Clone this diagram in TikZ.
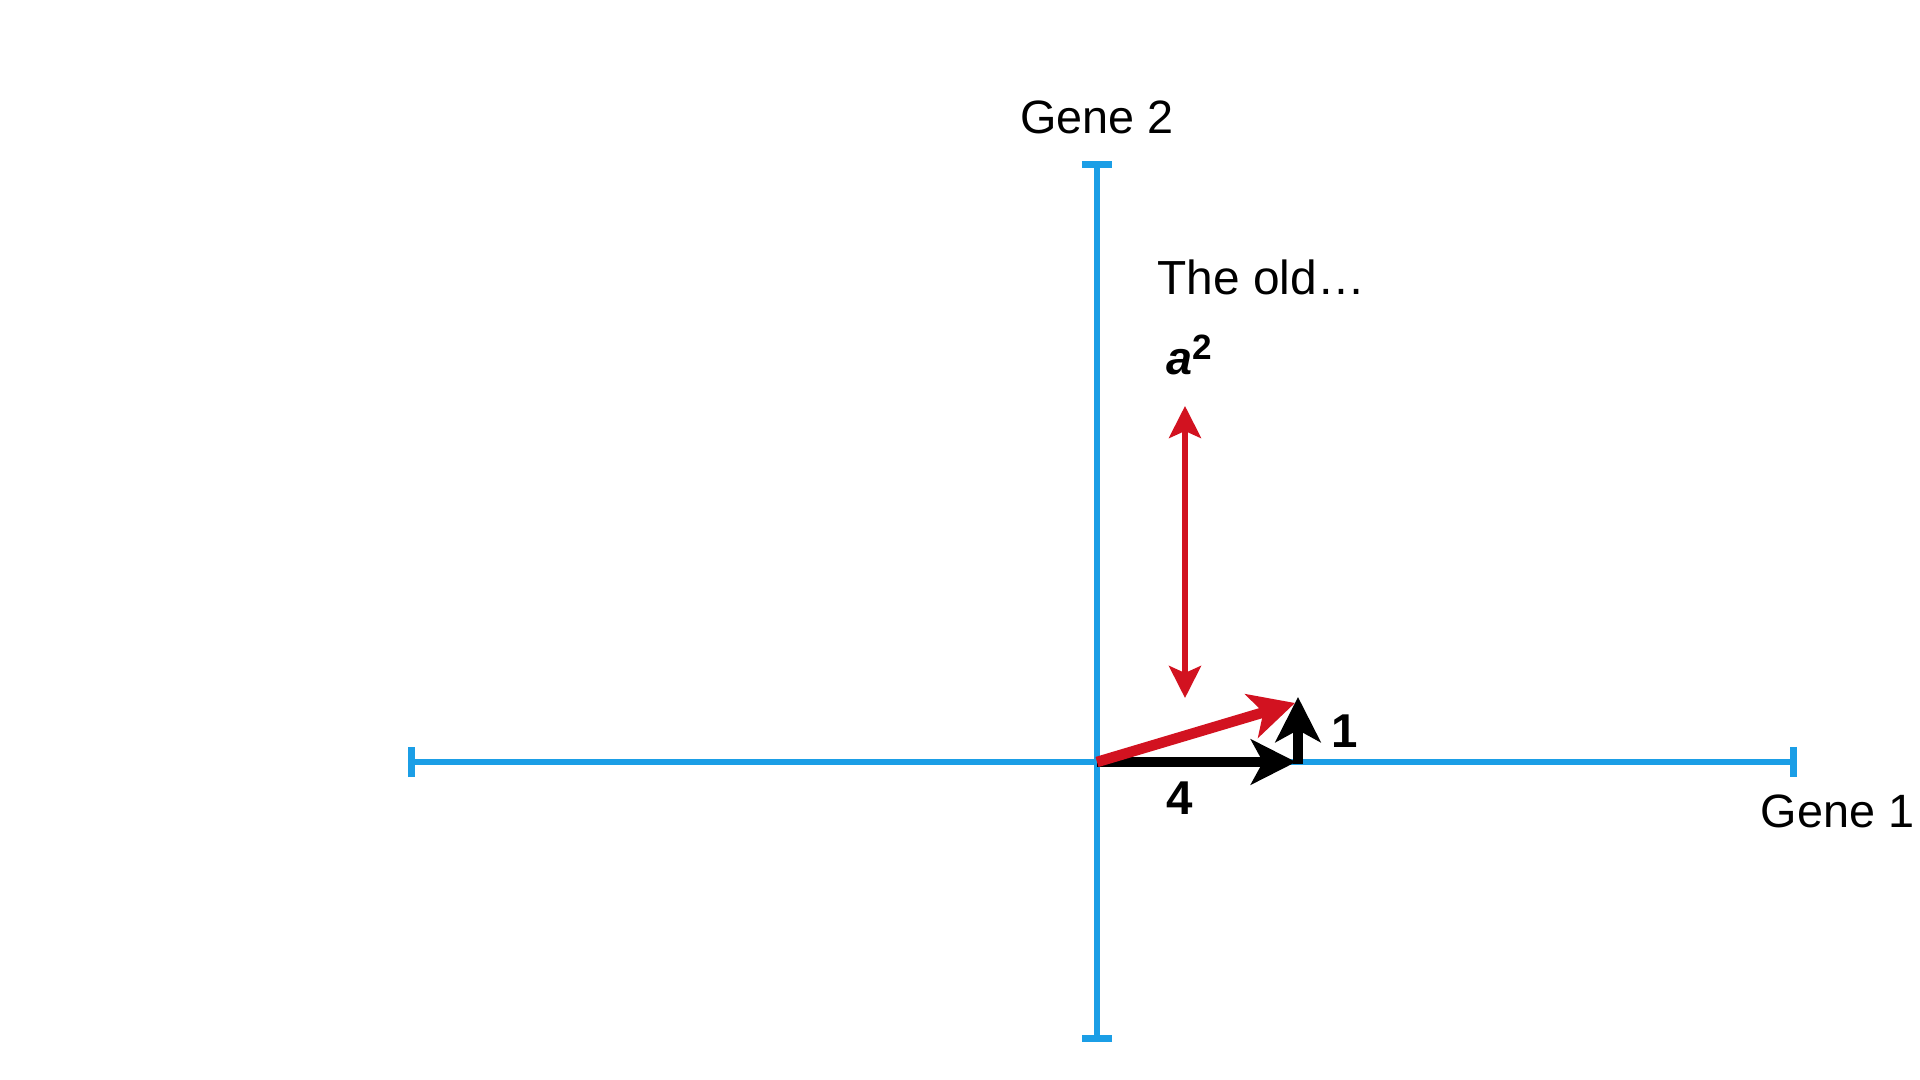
\documentclass[tikz,border=0pt]{standalone}
\usepackage{fontspec}
\setmainfont{Liberation Sans}
\usetikzlibrary{arrows.meta}
\definecolor{axisblue}{RGB}{27,158,230}
\definecolor{vecred}{RGB}{210,18,32}
\tikzset{
  axis/.style={draw=axisblue, line width=1.9pt, {Bar[width=0.3cm]}-{Bar[width=0.3cm]}},
  lbl/.style={inner sep=0pt, font=\fontsize{13.3}{16}\selectfont},
  numlbl/.style={inner sep=0pt, font=\fontsize{13.5}{16}\selectfont\bfseries},
  bigvec/.style={line width=3pt, -{Stealth[length=0.45cm, width=0.45cm, inset=0.12cm]}},
  dblvec/.style={draw=vecred, line width=1.5pt, {Stealth[length=0.32cm, width=0.32cm, inset=0.07cm]}-{Stealth[length=0.32cm, width=0.32cm, inset=0.07cm]}}
}
\begin{document}
\begin{tikzpicture}[x=0.01cm, y=-0.01cm]
\useasboundingbox (0,0) rectangle (1920,1080);
% axes
\coordinate (vtop) at (1097,161);
\coordinate (vbot) at (1097,1042);
\coordinate (hleft) at (408,762);
\coordinate (hright) at (1797,762);
\coordinate (o) at (1097,762);
\draw[axis] (vbot) -- (vtop);
\draw[axis] (hleft) -- (hright);
% labels
\node[lbl, anchor=base] (g2) at (1097,134) {Gene 2};
\node[lbl, anchor=base west] (g1) at (1760,828) {Gene 1};
\node[lbl, font=\fontsize{13.6}{16}\selectfont, anchor=base west] (old) at (1157,295) {The old…};
\node[inner sep=0pt, anchor=base west, font=\fontsize{13.3}{16}\selectfont] (asq) at (1166,375) {\textbf{\textit{a}}\raisebox{0.34em}{\fontsize{10}{11}\selectfont\bfseries 2}};
% double arrow
\coordinate (dtop) at (1185,406);
\coordinate (dbot) at (1185,698);
\draw[dblvec] (dtop) -- (dbot);
% vectors
\coordinate (redtip) at (1295,703);
\coordinate (htip) at (1296,762);
\coordinate (vbase) at (1298,764);
\coordinate (vtip) at (1298,697);
\draw[bigvec, black] (o) -- (htip);
\draw[bigvec, black] (vbase) -- (vtip);
\draw[bigvec, vecred] (o) -- (redtip);
\node[numlbl] (one) at (1345,731) {1};
\node[numlbl] (four) at (1180,798) {4};
\end{tikzpicture}
\end{document}
